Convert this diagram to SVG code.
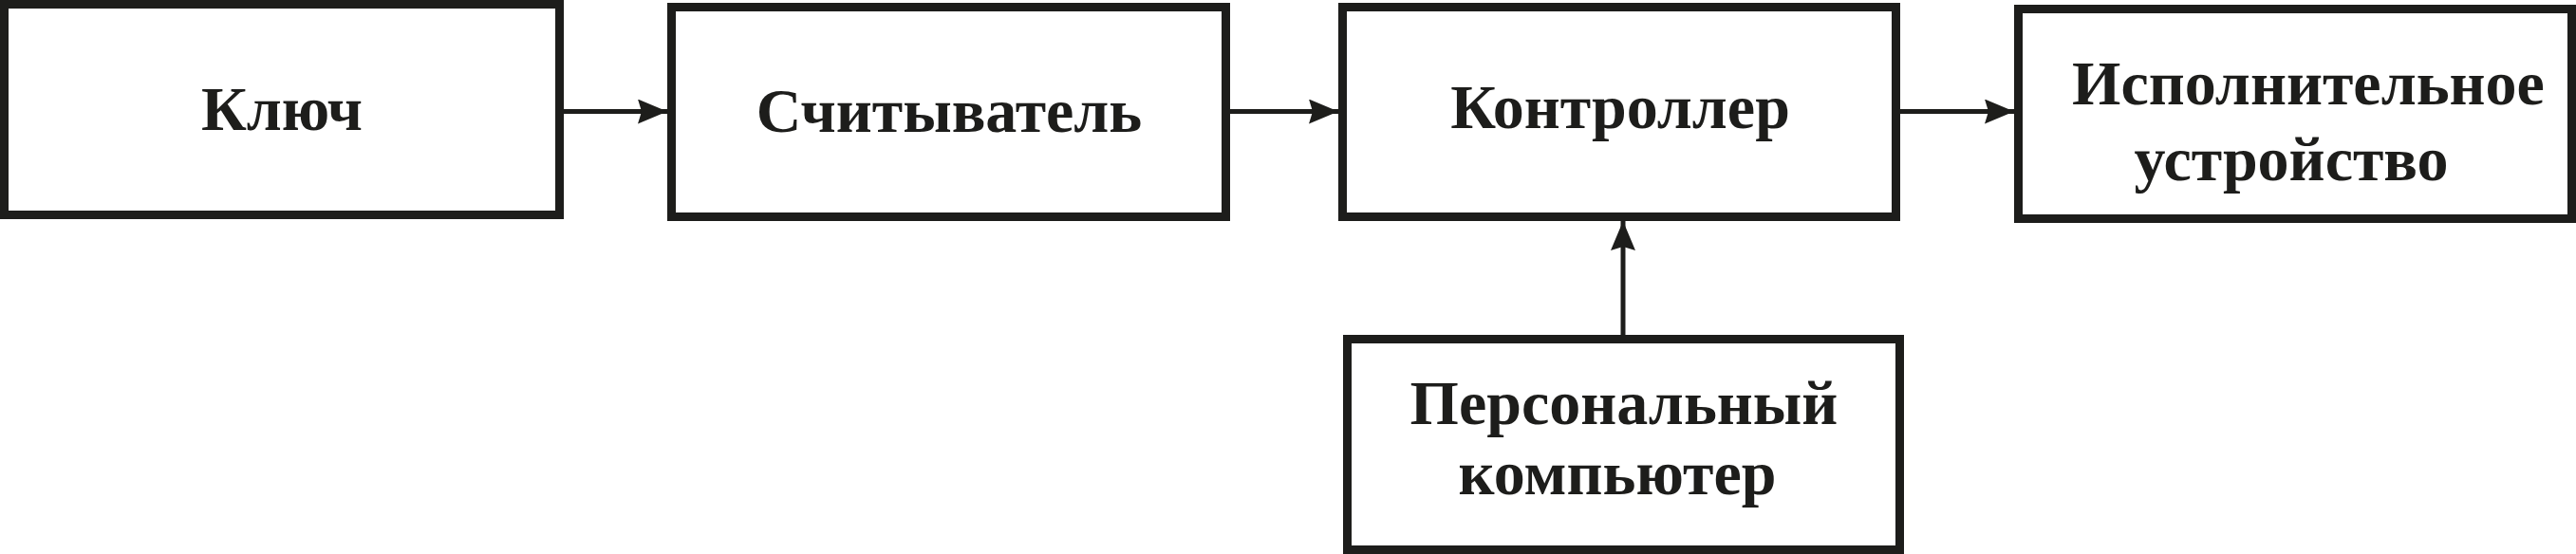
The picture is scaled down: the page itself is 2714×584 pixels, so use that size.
<svg xmlns="http://www.w3.org/2000/svg" width="2714" height="584" viewBox="0 0 2714 584">
  <style>
    .box { fill: #ffffff; stroke: #1d1d1b; stroke-width: 9; }
    .lbl { font-family: "Liberation Serif", "Times New Roman", serif; font-weight: bold; font-size: 66px; fill: #1d1d1b; text-anchor: middle; }
    .conn { stroke: #1d1d1b; stroke-width: 5; fill: none; marker-end: url(#arrow); }
  </style>
  <defs>
    <marker id="arrow" markerUnits="userSpaceOnUse" viewBox="0 0 31 26" refX="31" refY="13" markerWidth="31" markerHeight="26" orient="auto">
      <path d="M0,0 L31,13 L0,26 L4,13 Z" fill="#1d1d1b"/>
    </marker>
  </defs>
  <rect width="2714" height="584" fill="#ffffff"/>
  <g id="connectors">
    <path class="conn" d="M594,117.5 L703,117.5"/>
    <path class="conn" d="M1296,117.5 L1410,117.5"/>
    <path class="conn" d="M2002,117.5 L2122,117.5"/>
    <path class="conn" d="M1710,353 L1710,233"/>
  </g>
  <g id="node-key">
    <rect class="box" x="4.5" y="4.5" width="585" height="222"/>
    <text class="lbl" x="297" y="137">Ключ</text>
  </g>
  <g id="node-reader">
    <rect class="box" x="707.5" y="7.5" width="584" height="221"/>
    <text class="lbl" x="1000" y="139">Считыватель</text>
  </g>
  <g id="node-controller">
    <rect class="box" x="1414.5" y="7.5" width="583" height="221"/>
    <text class="lbl" x="1707" y="135">Контроллер</text>
  </g>
  <g id="node-actuator">
    <rect class="box" x="2126.5" y="9.5" width="583" height="221"/>
    <text class="lbl" x="2432" y="110">Исполнительное</text>
    <text class="lbl" x="2414" y="190">устройство</text>
  </g>
  <g id="node-pc">
    <rect class="box" x="1419.5" y="357.5" width="582" height="222"/>
    <text class="lbl" x="1711" y="447">Персональный</text>
    <text class="lbl" x="1704" y="521">компьютер</text>
  </g>
</svg>
